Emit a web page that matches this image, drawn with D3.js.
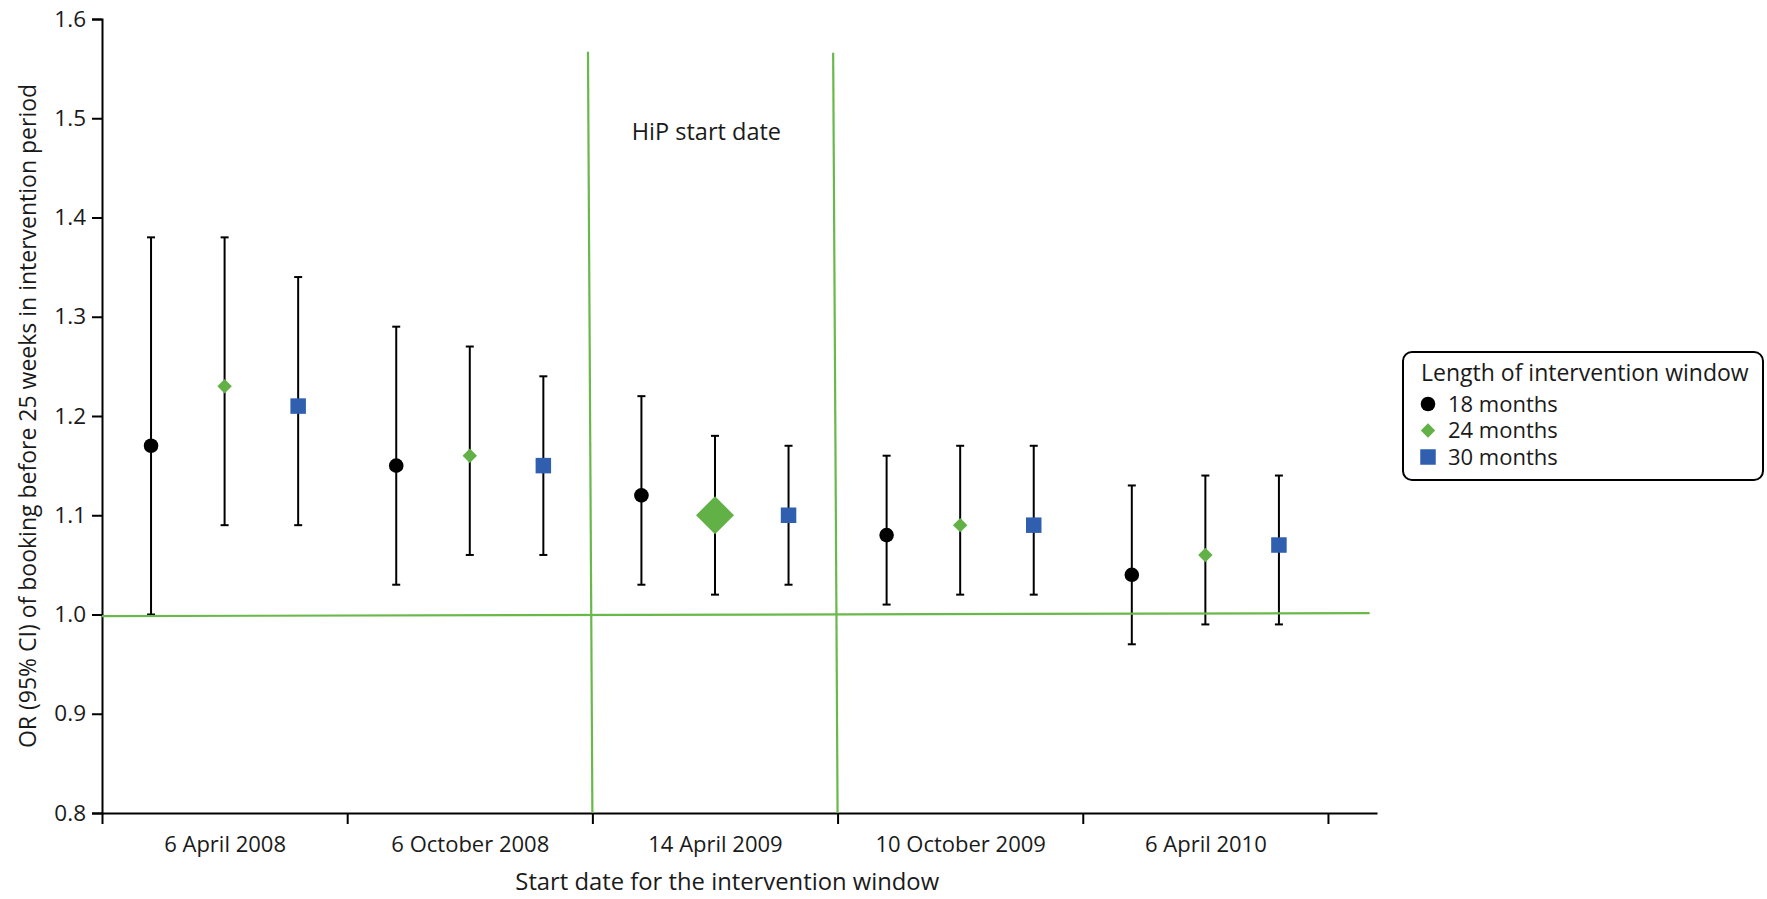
<!DOCTYPE html>
<html>
<head>
<meta charset="utf-8">
<script src="https://cdn.jsdelivr.net/npm/d3@7"></script>
<style>
  html, body { margin: 0; padding: 0; background: #ffffff; }
  svg { display: block; }
  text { font-family: "Open Sans", "Noto Sans", sans-serif; fill: #1a1a1a; }
</style>
</head>
<body>
<svg id="chart" width="1767" height="899"></svg>
<script>
// ---------------- data ----------------
const groups = ["6 April 2008", "6 October 2008", "14 April 2009", "10 October 2009", "6 April 2010"];
const seriesNames = ["18 months", "24 months", "30 months"];

const or18 = [1.17, 1.15, 1.12, 1.08, 1.04];
const lo18 = [1.00, 1.03, 1.03, 1.01, 0.97];
const hi18 = [1.38, 1.29, 1.22, 1.16, 1.13];

const or24 = [1.23, 1.16, 1.10, 1.09, 1.06];
const lo24 = [1.09, 1.06, 1.02, 1.02, 0.99];
const hi24 = [1.38, 1.27, 1.18, 1.17, 1.14];

const or30 = [1.21, 1.15, 1.10, 1.09, 1.07];
const lo30 = [1.09, 1.06, 1.03, 1.02, 0.99];
const hi30 = [1.34, 1.24, 1.17, 1.17, 1.14];

const yTicks = [0.8, 0.9, 1.0, 1.1, 1.2, 1.3, 1.4, 1.5, 1.6];
const highlighted = { group: "14 April 2009", series: "24 months" };

const annotationText = "HiP start date";
const xTitle = "Start date for the intervention window";
const yTitle = "OR (95% CI) of booking before 25 weeks in intervention period";
const legendTitle = "Length of intervention window";

// ---------------- layout ----------------
const svg = d3.select("#chart");
const GREEN_LINE = "#69b84a";
const GREEN = "#62b146";
const BLUE = "#2f5fae";

const x = d3.scaleLinear().domain([0, 5.2]).range([102, 1377]);
const y = d3.scaleLinear().domain([0.8, 1.6]).range([813, 19]);
const offset = d3.scalePoint().domain(seriesNames).range([-0.3, 0.3]);

const seriesData = [
  { name: "18 months", or: or18, lo: lo18, hi: hi18 },
  { name: "24 months", or: or24, lo: lo24, hi: hi24 },
  { name: "30 months", or: or30, lo: lo30, hi: hi30 }
];

const rows = [];
seriesData.forEach(s => {
  groups.forEach((g, i) => {
    rows.push({ group: g, gi: i, series: s.name, or: s.or[i], lo: s.lo[i], hi: s.hi[i] });
  });
});

// custom square diamond symbol
const diamondSq = {
  draw(ctx, size) {
    const r = Math.sqrt(size / 2);
    ctx.moveTo(0, -r); ctx.lineTo(r, 0); ctx.lineTo(0, r); ctx.lineTo(-r, 0); ctx.closePath();
  }
};
const symType = { "18 months": d3.symbolCircle, "24 months": diamondSq, "30 months": d3.symbolSquare };
const symSize = { "18 months": Math.PI * 7.3 * 7.3, "24 months": 2 * 7.2 * 7.2, "30 months": 15.5 * 15.5 };
const symFill = { "18 months": "#000000", "24 months": GREEN, "30 months": BLUE };

// ---------------- axes ----------------
const yAxis = d3.axisLeft(y).tickValues(yTicks).tickFormat(d3.format(".1f")).tickSize(10).tickPadding(6);
const gy = svg.append("g").attr("transform", `translate(${x(0)},0)`).call(yAxis);
gy.select(".domain").attr("stroke", "#000").attr("stroke-width", 2);
gy.selectAll(".tick line").attr("stroke", "#000").attr("stroke-width", 2);
gy.selectAll(".tick text").attr("font-size", 22.5).attr("fill", "#1a1a1a")
  .style("font-family", '"Open Sans", sans-serif');

// boundary ticks
const xAxisTicks = d3.axisBottom(x).tickValues(d3.range(0, groups.length + 1)).tickFormat("").tickSize(11).tickSizeOuter(0);
const gx = svg.append("g").attr("transform", `translate(0,${y(0.8)})`).call(xAxisTicks);
gx.select(".domain").attr("stroke", "#000").attr("stroke-width", 2);
gx.selectAll(".tick line").attr("stroke", "#000").attr("stroke-width", 2);

// category labels
const xLabelAxis = d3.axisBottom(x).tickValues(groups.map((g, i) => i + 0.5))
  .tickFormat((d, i) => groups[i]).tickSize(0);
const gxl = svg.append("g").attr("transform", `translate(0,${y(0.8)})`).call(xLabelAxis);
gxl.select(".domain").remove();
gxl.selectAll(".tick text").attr("y", 38.5).attr("dy", null).attr("font-size", 22)
  .attr("fill", "#1a1a1a").style("font-family", '"Open Sans", sans-serif');

// axis titles
svg.append("text").attr("x", x(2.55)).attr("y", 890).attr("text-anchor", "middle")
  .attr("font-size", 23.8).text(xTitle);
svg.append("text").attr("transform", `translate(36,${(y(0.8) + y(1.6)) / 2}) rotate(-90)`)
  .attr("text-anchor", "middle").attr("font-size", 23).text(yTitle);

// ---------------- error bars ----------------
const cx = d => x(d.gi + 0.5 + offset(d.series));
const capW = 4;
const eb = svg.append("g").attr("stroke", "#000").attr("stroke-width", 2);
eb.selectAll("line.v").data(rows).join("line").attr("class", "v")
  .attr("x1", cx).attr("x2", cx).attr("y1", d => y(d.lo)).attr("y2", d => y(d.hi));
eb.selectAll("line.t").data(rows).join("line").attr("class", "t")
  .attr("x1", d => cx(d) - capW).attr("x2", d => cx(d) + capW).attr("y1", d => y(d.hi)).attr("y2", d => y(d.hi));
eb.selectAll("line.b").data(rows).join("line").attr("class", "b")
  .attr("x1", d => cx(d) - capW).attr("x2", d => cx(d) + capW).attr("y1", d => y(d.lo)).attr("y2", d => y(d.lo));

// ---------------- reference annotation lines (hand drawn, slightly tilted) ----------------
const refH = { x: [0, 5.17], y: [0.9984, 1.0014] };
const refV1 = { x: [1.982, 2.0], y: [1.567, 0.8] };
const refV2 = { x: [2.982, 3.0], y: [1.566, 0.8] };
const ann = svg.append("g").attr("stroke", GREEN_LINE).attr("stroke-width", 2.2);
[refH, refV1, refV2].forEach(l => {
  ann.append("line").attr("x1", x(l.x[0])).attr("x2", x(l.x[1]))
    .attr("y1", y(l.y[0])).attr("y2", y(l.y[1]));
});
svg.append("text").attr("x", x(2.465)).attr("y", y(1.478)).attr("text-anchor", "middle")
  .attr("font-size", 23.5).text(annotationText);

// ---------------- markers ----------------
svg.append("g").selectAll("path").data(rows).join("path")
  .attr("transform", d => `translate(${cx(d)},${y(d.or)})`)
  .attr("d", d => {
    const big = d.group === highlighted.group && d.series === highlighted.series;
    return d3.symbol().type(symType[d.series]).size(big ? 2 * 19 * 19 : symSize[d.series])();
  })
  .attr("fill", d => symFill[d.series]);

// ---------------- legend ----------------
const lg = svg.append("g").attr("transform", "translate(1403,352)");
lg.append("rect").attr("x", 0).attr("y", 0).attr("width", 360).attr("height", 128)
  .attr("rx", 9).attr("fill", "#fff").attr("stroke", "#000").attr("stroke-width", 2);
lg.append("text").attr("x", 18).attr("y", 29).attr("font-size", 23).text(legendTitle);
seriesNames.forEach((s, i) => {
  const cy = 52 + i * 26.5;
  lg.append("path").attr("transform", `translate(25,${cy})`)
    .attr("d", d3.symbol().type(symType[s]).size(symSize[s])()).attr("fill", symFill[s]);
  lg.append("text").attr("x", 45).attr("y", cy + 7.5).attr("font-size", 22).text(s);
});
</script>
</body>
</html>
